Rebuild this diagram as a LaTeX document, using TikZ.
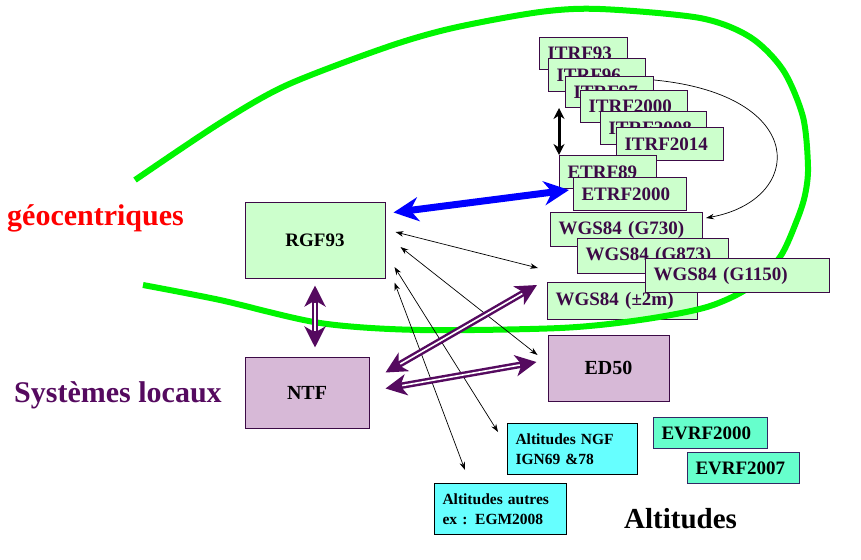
\documentclass[tikz,border=0pt]{standalone}
\usepackage{fontspec}
\setmainfont{Liberation Serif}
\usetikzlibrary{arrows.meta}

\definecolor{paleGreen}{RGB}{204,255,204}
\definecolor{inkPurple}{RGB}{60,10,70}
\definecolor{locPurple}{RGB}{85,10,95}
\definecolor{lilac}{RGB}{215,185,215}
\definecolor{aqua}{RGB}{102,255,255}
\definecolor{mint}{RGB}{102,255,204}
\definecolor{slateEdge}{RGB}{51,40,100}
\definecolor{curveGreen}{RGB}{0,245,0}

\begin{document}
\begin{tikzpicture}[x=1pt, y=-1pt,
    frame/.style={draw=inkPurple, line width=1pt, fill=paleGreen, text=inkPurple,
        anchor=north west, align=left, inner xsep=8pt, inner ysep=0pt,
        font=\bfseries\fontsize{19}{22}\selectfont},
    bigbox/.style={draw=inkPurple, line width=1pt, text=black,
        font=\bfseries\fontsize{19}{22}\selectfont},
    altbox/.style={draw=black, line width=1pt, fill=aqua, anchor=north west,
        align=left, inner xsep=8pt, inner ysep=0pt,
        font=\bfseries\fontsize{15.5}{20}\selectfont},
    evbox/.style={draw=slateEdge, line width=1pt, fill=mint, anchor=north west,
        align=left, inner xsep=8pt, inner ysep=0pt,
        font=\bfseries\fontsize{19}{22}\selectfont},
    label/.style={anchor=base west, inner sep=0pt, font=\bfseries\fontsize{30}{30}\selectfont},
    link/.style={draw=black, line width=0.7pt,
        {Stealth[length=8pt,width=5.5pt]}-{Stealth[length=8pt,width=5.5pt]}},
    bluelink/.style={draw=blue, line width=7pt,
        {Stealth[length=25pt,width=24pt,inset=8pt]}-{Stealth[length=25pt,width=24pt,inset=8pt]}},
    purplelink/.style={draw=locPurple, line width=6.5pt,
        {Stealth[length=21pt,width=21pt,inset=6pt]}-{Stealth[length=21pt,width=21pt,inset=6pt]},
        postaction={draw=white, line width=1.6pt, shorten <=17pt, shorten >=17pt, -}},
    contour/.style={draw=curveGreen, line width=6pt}
    ]

    \useasboundingbox (0,0) rectangle (861,559);

    %% Geocentric frames

    % ITRF
    \node[frame, minimum height=32pt, text width=72pt] (itrf93) at (539,37) {ITRF93};
    \node[frame, minimum height=33pt, text width=81pt] (itrf96) at (548,58) {ITRF96};
    \node[frame, minimum height=31pt, text width=72pt] (itrf97) at (565,76) {ITRF97};
    \node[frame, minimum height=32pt, text width=91pt] (itrf2000) at (580,90) {ITRF2000};
    \node[frame, minimum height=33pt, text width=90pt] (itrf2008) at (600,111) {ITRF2008};
    \node[frame, minimum height=33pt, text width=91pt] (itrf2014) at (616,127) {ITRF2014};

    % ETRF
    \node[frame, minimum height=33pt, text width=81pt] (etrf89) at (559,155) {ETRF89};
    \node[frame, minimum height=33pt, text width=97pt] (etrf2000) at (573,177) {ETRF2000};

    % WGS84
    \node[frame, minimum height=34pt, text width=136pt] (wgs730) at (550,212) {WGS84 (G730)};
    \node[frame, minimum height=35pt, text width=135pt] (wgs873) at (577,238) {WGS84 (G873)};
    \node[frame, minimum height=37pt, text width=134pt] (wgs2m) at (547,282) {WGS84 (±2m)};

    % Green outline
    \draw[contour] plot[smooth] coordinates {(135,180) (220,123) (287,85) (387,47)
        (453,28) (540,12) (600,9) (700,18) (750,37) (783,70) (803,117) (808,167)
        (805,195) (797,220) (780,257) (750,287) (707,307) (640,320) (560,328)
        (420,330) (320,323) (220,300) (143,285)};

    \node[frame, minimum height=34pt, text width=168pt] (wgs1150) at (645,258) {WGS84 (G1150)};

    % RGF93
    \node[bigbox, fill=paleGreen, minimum width=140pt, minimum height=76pt] (rgf) at (315,240) {RGF93};

    %% Local systems
    \node[bigbox, fill=lilac, minimum width=124pt, minimum height=71pt,
        font=\bfseries\fontsize{20}{22}\selectfont] (ntf) at (307,392.5) {NTF};
    \node[bigbox, fill=lilac, minimum width=121pt, minimum height=66pt,
        font=\bfseries\fontsize{20}{22}\selectfont] (ed50) at (608.5,368) {ED50};

    %% Heights
    \node[altbox, minimum height=51pt, text width=114pt] (ngf) at (507,423) {Altitudes NGF\\IGN69 \&78};
    \node[altbox, minimum height=51pt, text width=116pt] (autres) at (434,483) {Altitudes autres\\ex : EGM2008};
    \node[evbox, minimum height=31pt, text width=98pt] (evrf2000) at (653,417) {EVRF2000};
    \node[evbox, minimum height=31pt, text width=96pt] (evrf2007) at (687,452) {EVRF2007};

    % Labels
    \node[label, text=red] (geo) at (7,225) {géocentriques};
    \node[label, text=locPurple] (loc) at (14,402) {Systèmes locaux};
    \node[label, text=black, font=\bfseries\fontsize{29}{30}\selectfont] (alt) at (624,528) {Altitudes};

    %% Transformations

    % ITRF <-> ETRF
    \draw[line width=3pt, {Stealth[length=11pt,width=11pt]}-{Stealth[length=11pt,width=11pt]}]
        (etrf89.north west) -- (etrf89.north west |- itrf97.south);

    % ITRF -> WGS84
    \draw[line width=0.7pt, -{Stealth[length=8pt,width=5.5pt]}]
        ([yshift=-4pt]itrf97.north east) .. controls (810,95) and (805,200) .. ([xshift=3pt,yshift=-6pt]wgs730.north east);

    % RGF93 <-> ETRF2000
    \draw[bluelink] ([xshift=8pt,yshift=-11pt]rgf.north east) -- ([xshift=-4pt,yshift=4pt]etrf2000.west);

    % RGF93 <-> others
    \draw[link] ([xshift=10pt,yshift=8pt]rgf.east) -- ([xshift=-9pt,yshift=14pt]wgs2m.north west);
    \draw[link] ([xshift=15pt,yshift=-7pt]rgf.east) -- ([xshift=-10pt,yshift=13pt]ed50.west);
    \draw[link] ([xshift=9pt,yshift=-27pt]rgf.east) -- ([xshift=-9pt,yshift=-9pt]ngf.north west);
    \draw[link] ([xshift=9pt,yshift=-4pt]rgf.south east) -- ([xshift=31pt,yshift=13pt]autres.north west);

    % NTF <-> others
    \draw[purplelink] ([yshift=-7pt]rgf.south) -- ([xshift=8pt,yshift=9pt]ntf.north);
    \draw[purplelink] ([xshift=16pt,yshift=-16pt]ntf.north east) -- ([xshift=-10pt,yshift=-3pt]wgs2m.north west);
    \draw[purplelink] ([xshift=16pt,yshift=4pt]ntf.east) -- ([xshift=-11pt,yshift=6pt]ed50.west);

\end{tikzpicture}
\end{document}
